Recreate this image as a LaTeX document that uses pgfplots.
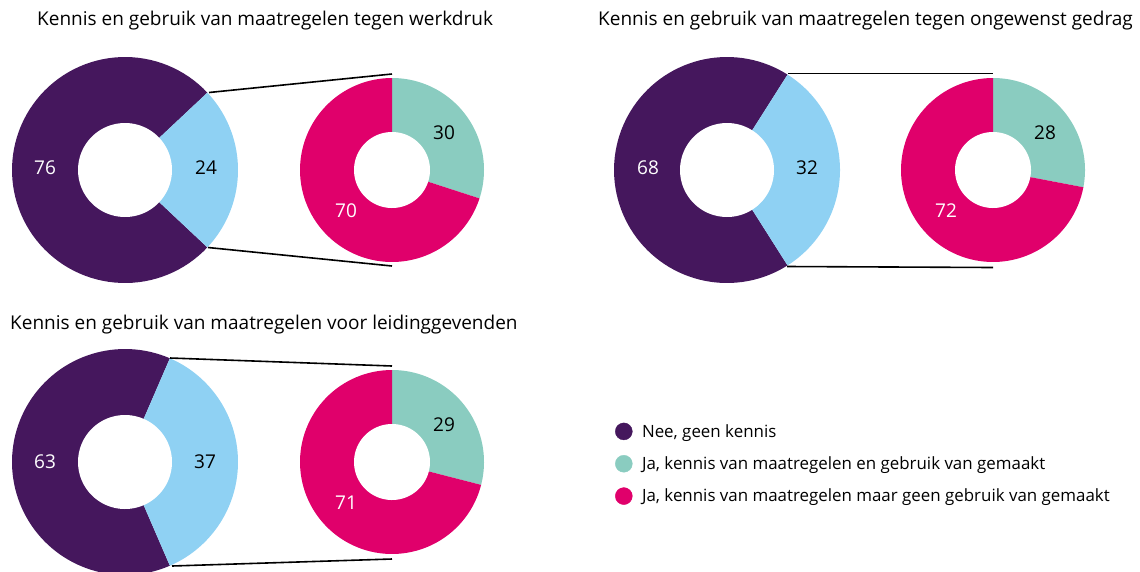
\documentclass[border=0pt]{standalone}
\usepackage{pgfplots}
\pgfplotsset{compat=1.18}
\usepackage{fontspec}
\setmainfont{Open Sans}
\definecolor{cPurple}{HTML}{45175D}
\definecolor{cBlue}{HTML}{8FD1F3}
\definecolor{cTeal}{HTML}{8ACCC0}
\definecolor{cPink}{HTML}{E0006B}
% sector: cx, cy, R, start angle, end angle, colour
\newcommand{\sector}[6]{%
  \addplot[forget plot, fill=#6, draw=none, domain={#4}:{#5}, samples=90, variable=\t]
    ({#1+#3*cos(\t)},{#2-#3*sin(\t)}) -- (axis cs:#1,#2) -- cycle;}
\newcommand{\hole}[3]{%
  \addplot[forget plot, fill=white, draw=none, domain=0:360, samples=120, variable=\t]
    ({#1+#3*cos(\t)},{#2-#3*sin(\t)}) -- cycle;}
\begin{document}
\begin{tikzpicture}
\begin{axis}[
  width=1140pt, height=571pt, scale only axis,
  xmin=0, xmax=1140, ymin=0, ymax=571, y dir=reverse,
  hide axis, clip=true,
  legend style={at={(0.5394,0.2609)}, anchor=north west, draw=none, fill=none,
    font=\fontsize{16.9}{20}\selectfont, row sep=14pt, inner sep=0pt,
    nodes={inner sep=2pt}},
  legend cell align=left,
]
% ---- legend
\addlegendimage{legend image code/.code={\fill[cPurple] (0pt,0pt) circle (8.5pt); \path (16pt,0pt);}}
\addlegendentry{Nee, geen kennis}
\addlegendimage{legend image code/.code={\fill[cTeal] (0pt,0pt) circle (8.5pt); \path (16pt,0pt);}}
\addlegendentry{Ja, kennis van maatregelen en gebruik van gemaakt}
\addlegendimage{legend image code/.code={\fill[cPink] (0pt,0pt) circle (8.5pt); \path (16pt,0pt);}}
\addlegendentry{Ja, kennis van maatregelen maar geen gebruik van gemaakt}
% ---- Donut 1: werkdruk (Nee 76, Ja 24; of Ja: gebruik 30, geen gebruik 70)
\sector{125}{170}{113}{24*1.8}{360-24*1.8}{cPurple}
\sector{125}{170}{113}{-24*1.8}{24*1.8}{cBlue}
\hole{125}{170}{47}
\sector{392}{170}{92}{90-30*3.6}{90}{cTeal}
\sector{392}{170}{92}{90}{90+70*3.6}{cPink}
\hole{392}{170}{38}
\addplot[forget plot, black, line width=1.6pt] coordinates {(209,92.5) (392,74)};
\addplot[forget plot, black, line width=1.6pt] coordinates {(208,247.5) (392,266)};
% ---- Donut 2: ongewenst gedrag (Nee 68, Ja 32; gebruik 28, geen 72)
\sector{727}{170}{113}{32*1.8}{360-32*1.8}{cPurple}
\sector{727}{170}{113}{-32*1.8}{32*1.8}{cBlue}
\hole{727}{170}{47}
\sector{993}{170}{92}{90-28*3.6}{90}{cTeal}
\sector{993}{170}{92}{90}{90+72*3.6}{cPink}
\hole{993}{170}{38}
\addplot[forget plot, black, line width=1.6pt] coordinates {(788,73.5) (993,73.5)};
\addplot[forget plot, black, line width=1.6pt] coordinates {(787,266.5) (993,267.5)};
% ---- Donut 3: leidinggevenden (Nee 63, Ja 37; gebruik 29, geen 71)
\sector{125}{462}{113}{37*1.8}{360-37*1.8}{cPurple}
\sector{125}{462}{113}{-37*1.8}{37*1.8}{cBlue}
\hole{125}{462}{47}
\sector{392}{462}{92}{90-29*3.6}{90}{cTeal}
\sector{392}{462}{92}{90}{90+71*3.6}{cPink}
\hole{392}{462}{38}
\addplot[forget plot, black, line width=1.6pt] coordinates {(170,358) (392,366)};
\addplot[forget plot, black, line width=1.6pt] coordinates {(172,566) (392,559)};
% ---- value labels
\begin{scope}[font=\fontsize{19}{22}\selectfont]
\node[white] at (axis cs:45,168) {76};
\node at (axis cs:206,168) {24};
\node at (axis cs:444,133) {30};
\node[white] at (axis cs:346,211) {70};
\node[white] at (axis cs:648,168) {68};
\node at (axis cs:807,168) {32};
\node at (axis cs:1045,133) {28};
\node[white] at (axis cs:946,211) {72};
\node[white] at (axis cs:45,462) {63};
\node at (axis cs:205,462) {37};
\node at (axis cs:444,425) {29};
\node[white] at (axis cs:346,503) {71};
\end{scope}
% ---- titles
\begin{scope}[font=\fontsize{19}{22}\selectfont, inner sep=0pt]
\node[anchor=west] at (axis cs:37,21) {Kennis en gebruik van maatregelen tegen werkdruk};
\node[anchor=west] at (axis cs:598,21) {Kennis en gebruik van maatregelen tegen ongewenst gedrag};
\node[anchor=west] at (axis cs:10,325) {Kennis en gebruik van maatregelen voor leidinggevenden};
\end{scope}
\end{axis}
\pgfresetboundingbox
\path (0,0) rectangle (1140pt,571pt);
\end{tikzpicture}
\end{document}
